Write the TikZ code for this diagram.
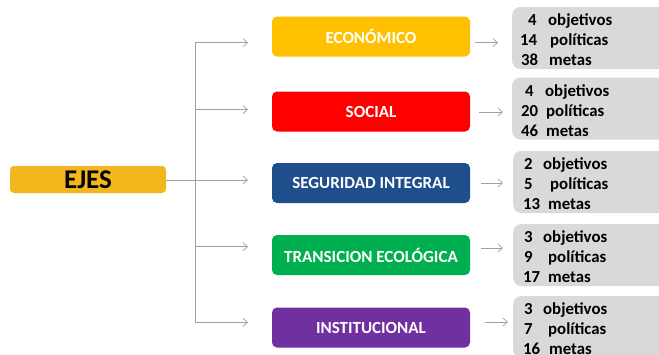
\documentclass[tikz,border=0pt]{standalone}
\usepackage{fontspec}
\setmainfont{Carlito}
\usetikzlibrary{arrows.meta}
\definecolor{ejesc}{HTML}{F2B71D}
\definecolor{econc}{HTML}{FFC000}
\definecolor{socc}{HTML}{FF0000}
\definecolor{segc}{HTML}{1F4E8C}
\definecolor{trac}{HTML}{00B050}
\definecolor{insc}{HTML}{7030A0}
\definecolor{grayc}{HTML}{D9D9D9}
\definecolor{linec}{HTML}{A0A0A0}
\newcommand\gl[4]{\makebox[#3pt][l]{\hspace*{#1pt}#2}#4}
\tikzset{
  axisbox/.style={rectangle, rounded corners=5pt, minimum width=198pt, minimum height=40pt,
    text=white, font=\fontsize{17}{19}\selectfont\bfseries, inner sep=0pt},
  grbox/.style={rectangle, rounded corners=8pt, fill=grayc, anchor=west, minimum height=62pt,
    text width=170pt, inner xsep=0pt, align=left, font=\fontsize{16.8}{20}\selectfont\bfseries},
  conn/.style={draw=linec, line width=0.7pt},
  arr/.style={conn, -{Straight Barb[length=4.5pt,width=8pt,line width=0.7pt]}}
}
\begin{document}
\begin{tikzpicture}[x=1pt,y=-1pt]
\clip (0,0) rectangle (659,354);
\fill[white] (0,0) rectangle (659,354);
% main node
\node[rectangle, rounded corners=4pt, fill=ejesc, minimum width=156pt, minimum height=27pt,
  inner sep=0pt, font=\fontsize{27}{30}\selectfont\bfseries] (ejes) at (88,179.5) {EJES};
% axis boxes
\node[axisbox, fill=econc] (econ) at (371,36.5) {ECONÓMICO};
\node[axisbox, fill=socc] (soc) at (371,111.5) {SOCIAL};
\node[axisbox, fill=segc] (seg) at (371,183) {SEGURIDAD INTEGRAL};
\node[axisbox, fill=trac] (tra) at (371,255) {TRANSICION ECOLÓGICA};
\node[axisbox, fill=insc] (ins) at (371,327.5) {INSTITUCIONAL};
% gray boxes
\node[grbox] (g1) at (512,38) {};
\node[grbox] (g2) at (512,108.5) {};
\node[grbox] (g3) at (513,182) {};
\node[grbox] (g4) at (513,255) {};
\node[grbox] (g5) at (513,327) {};
\node[grbox, fill=none, yshift=-2pt] (g1t) at (g1.west) {\gl{16}{4}{36}{objetivos}\\\gl{8}{14}{38}{políticas}\\\gl{9}{38}{37}{metas}};
\node[grbox, fill=none, yshift=-2pt] (g2t) at (g2.west) {\gl{13}{4}{33}{objetivos}\\\gl{9}{20}{34}{políticas}\\\gl{9}{46}{34}{metas}};
\node[grbox, fill=none, yshift=-2pt] (g3t) at (g3.west) {\gl{11}{2}{30}{objetivos}\\\gl{11}{5}{37}{políticas}\\\gl{10}{13}{35}{metas}};
\node[grbox, fill=none, yshift=-2pt] (g4t) at (g4.west) {\gl{11}{3}{30}{objetivos}\\\gl{11}{9}{35}{políticas}\\\gl{10}{17}{35}{metas}};
\node[grbox, fill=none, yshift=-2pt] (g5t) at (g5.west) {\gl{11}{3}{30}{objetivos}\\\gl{11}{7}{35}{políticas}\\\gl{10}{16}{36}{metas}};
% left connectors
\coordinate (top) at (195,42.7);
\coordinate (bot) at (195,322.3);
\coordinate (t1) at (248,42.7);
\coordinate (t2) at (248,109.5);
\coordinate (t3) at (248,180);
\coordinate (t4) at (248,246.7);
\coordinate (t5) at (248,322.3);
\draw[conn] (top) -- (bot);
\draw[arr] (top) -- (t1);
\draw[arr] (top |- t2) -- (t2);
\draw[arr] (ejes.east |- t3) -- (t3);
\draw[arr] (top |- t4) -- (t4);
\draw[arr] (bot) -- (t5);
% right connectors
\coordinate (s1) at (475,42.7);  \coordinate (e1) at (498,42.7);
\coordinate (s2) at (479,112);   \coordinate (e2) at (503,112);
\coordinate (s3) at (481,183);   \coordinate (e3) at (503,183);
\coordinate (s4) at (481,248);   \coordinate (e4) at (503,248);
\coordinate (s5) at (485,322);   \coordinate (e5) at (508,322);
\draw[arr] (s1) -- (e1);
\draw[arr] (s2) -- (e2);
\draw[arr] (s3) -- (e3);
\draw[arr] (s4) -- (e4);
\draw[arr] (s5) -- (e5);
\end{tikzpicture}
\end{document}
